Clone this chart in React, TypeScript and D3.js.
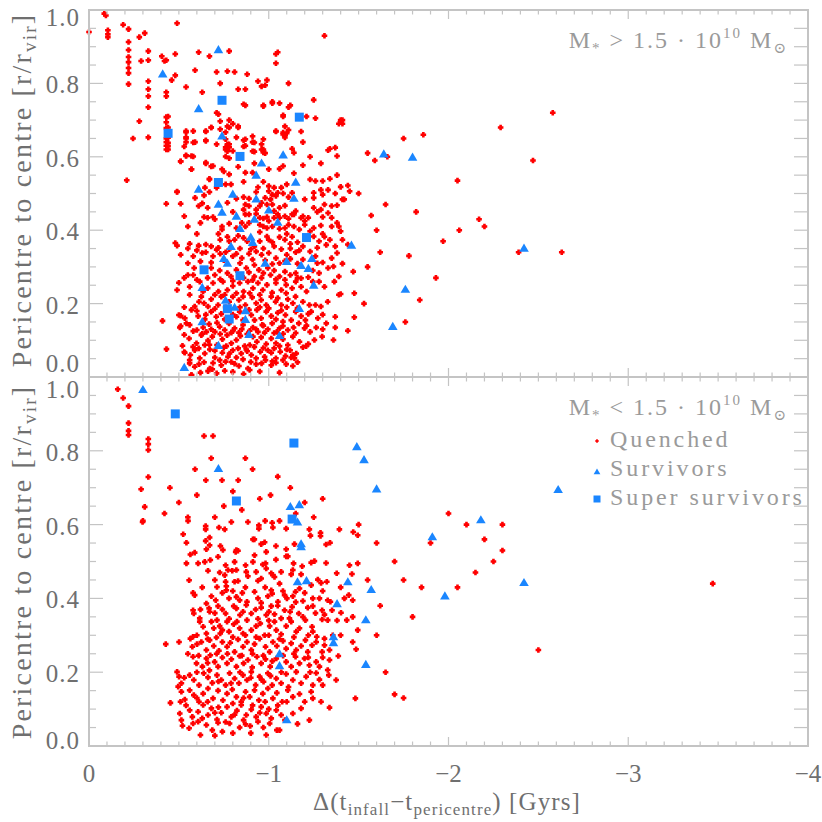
import React from 'react';
import * as d3 from 'd3';

type P = [number, number];

// ---------- data ----------
const quenchedTop: P[] = [
[0,0.94],[-0.085,0.99],[-0.094,0.985],[-0.105,0.945],[-0.105,0.934],[-0.105,0.926],[-0.19,0.96],[-0.22,0.948],[-0.22,0.913],[-0.22,0.891],[-0.22,0.872],[-0.22,0.858],[-0.22,0.842],[-0.22,0.828],[-0.22,0.798],[-0.21,0.536],[-0.28,0.926],[-0.31,0.937],[-0.33,0.888],[-0.33,0.863],[-0.29,0.861],[-0.33,0.806],[-0.33,0.784],[-0.33,0.765],[-0.33,0.735],[-0.28,0.697],[-0.245,0.65],[-0.33,0.653],[-0.405,0.874],[-0.42,0.861],[-0.43,0.863],[-0.48,0.822],[-0.46,0.809],[-0.48,0.88],[-0.49,0.964],[-0.43,0.776],[-0.43,0.765],[-0.43,0.708],[-0.43,0.694],[-0.43,0.678],[-0.43,0.65],[-0.43,0.64],[-0.43,0.63],[-0.43,0.62],[-0.51,0.587],[-0.49,0.505],[-0.54,0.79],[-0.54,0.667],[-0.54,0.653],[-0.53,0.628],[-0.54,0.604],[-0.57,0.566],[-0.58,0.639],[-0.58,0.601],[-0.59,0.836],[-0.61,0.885],[-0.63,0.776],[-0.67,0.874],[-0.65,0.669],[-0.68,0.68],[-0.65,0.645],[-0.65,0.582],[-0.645,0.516],[-0.68,0.574],[-0.67,0.538],[-0.71,0.831],[-0.73,0.8],[-0.77,0.833],[-0.78,0.888],[-0.81,0.831],[-0.72,0.716],[-0.73,0.697],[-0.73,0.675],[-0.77,0.683],[-0.78,0.68],[-0.76,0.667],[-0.83,0.683],[-0.71,0.634],[-0.77,0.634],[-0.76,0.626],[-0.78,0.626],[-0.77,0.615],[-0.76,0.601],[-0.78,0.596],[-0.82,0.653],[-0.87,0.648],[-0.86,0.628],[-0.91,0.656],[-0.92,0.639],[-0.91,0.615],[-0.83,0.784],[-0.87,0.784],[-0.86,0.743],[-0.88,0.825],[-0.94,0.806],[-0.96,0.792],[-0.98,0.795],[-0.99,0.809],[-0.97,0.738],[-1.02,0.746],[-0.96,0.634],[-0.97,0.62],[-0.97,0.612],[-0.92,0.582],[-1.06,0.746],[-1.08,0.713],[-1.09,0.683],[-1.04,0.669],[-1.08,0.661],[-1.09,0.653],[-1.04,0.88],[-1.05,0.885],[-1.04,0.855],[-1.11,0.8],[-1.11,0.735],
[-0.87,0.74],[-0.97,0.74],[-1.02,0.75],[-1.12,0.74],[-1.25,0.755],[-0.44,0.71],[-0.71,0.72],[-0.78,0.7],[-0.8,0.69],[-0.83,0.68],[-0.68,0.68],[-0.65,0.67],[-1.08,0.71],[-1.04,0.67],[-1.08,0.666],[-1.21,0.71],[-1.26,0.705],[-1.41,0.7],[-1.39,0.69],
[-0.44,0.68],[-0.54,0.67],[-0.58,0.67],[-0.54,0.65],[-0.76,0.648],[-0.78,0.634],[-0.76,0.62],[-0.86,0.645],[-0.87,0.63],[-0.91,0.64],[-0.97,0.648],[-0.96,0.62],[-0.98,0.61],[-1.1,0.664],[-1.11,0.673],[-1.18,0.669],[-1.19,0.64],
[-0.44,0.652],[-0.44,0.638],[-0.44,0.629],[-0.44,0.62],[-0.54,0.64],[-0.59,0.64],[-0.65,0.643],[-0.8,0.616],[-0.77,0.625],[-0.92,0.614],[-1.13,0.622],[-1.14,0.611],[-1.34,0.622],[-1.37,0.625],[-1.38,0.602],
[-0.54,0.602],[-0.57,0.602],[-0.51,0.588],[-0.65,0.584],[-0.69,0.575],[-0.74,0.566],[-0.75,0.56],[-0.83,0.573],[-0.87,0.557],[-1.0,0.566],[-1.06,0.567],[-1.08,0.575],[-1.14,0.555],[-1.19,0.577],[-1.23,0.6],[-1.29,0.582],[-1.33,0.618],
[-0.57,0.566],[-0.67,0.54],[-0.78,0.552],[-0.76,0.525],[-0.79,0.525],[-0.86,0.532],[-0.91,0.557],[-0.94,0.517],[-0.97,0.532],[-1.0,0.52],[-1.03,0.516],[-1.07,0.516],[-1.1,0.525],[-1.05,0.502],[-1.23,0.538],[-1.26,0.534],[-1.3,0.534],[-1.34,0.54],[-1.38,0.55],[-1.44,0.522],
[-0.49,0.504],[-0.59,0.488],[-0.64,0.495],[-0.71,0.516],[-0.67,0.504],[-0.82,0.486],[-0.86,0.49],[-0.89,0.486],[-0.93,0.504],[-0.98,0.488],[-1.0,0.506],[-1.02,0.497],[-1.01,0.484],[-1.04,0.493],[-1.08,0.5],[-1.11,0.49],[-1.13,0.502],[-1.2,0.484],[-1.25,0.502],[-1.25,0.488],[-1.29,0.51],[-1.3,0.497],[-1.33,0.51],[-1.37,0.5],[-1.4,0.518],[-1.41,0.484],[-1.45,0.506],
[-0.43,0.472],[-0.51,0.472],[-0.61,0.466],[-0.63,0.473],[-0.66,0.461],[-0.77,0.475],[-0.87,0.47],[-0.86,0.456],[-0.89,0.466],[-0.93,0.456],[-0.95,0.466],[-0.96,0.475],[-0.99,0.47],[-1.02,0.47],[-1.03,0.452],[-1.06,0.461],[-1.09,0.467],[-1.13,0.443],[-1.15,0.452],[-1.19,0.438],[-1.25,0.461],[-1.29,0.456],[-1.31,0.47],[-1.33,0.447],[-1.35,0.466],[-1.38,0.468],[-1.42,0.484],
[-0.53,0.438],[-0.64,0.436],[-0.66,0.434],[-0.69,0.436],[-0.87,0.443],[-0.89,0.443],[-0.93,0.445],[-0.95,0.434],[-0.97,0.432],[-0.99,0.436],[-1.03,0.434],[-1.05,0.443],[-1.06,0.434],[-1.09,0.438],[-1.11,0.431],[-1.14,0.443],[-1.18,0.434],[-1.22,0.434],[-1.3,0.436],[-1.35,0.434],[-1.38,0.42],
[-0.74,0.41],[-0.74,0.402],[-0.78,0.418],[-0.82,0.406],[-0.87,0.41],[-0.89,0.42],[-0.95,0.415],[-0.97,0.41],[-0.99,0.406],[-1.02,0.41],[-1.06,0.404],[-1.09,0.406],[-1.11,0.415],[-1.14,0.41],[-1.17,0.402],[-1.2,0.415],[-1.23,0.397],[-1.25,0.406],[-1.29,0.413],[-1.35,0.41],[-1.39,0.41],[-1.4,0.397],
[-0.48,0.365],[-0.49,0.358],[-0.56,0.363],[-0.61,0.358],[-0.65,0.361],[-0.68,0.356],[-0.73,0.374],[-0.77,0.382],[-0.78,0.37],[-0.81,0.374],[-0.83,0.385],[-0.86,0.379],[-0.88,0.37],[-0.92,0.356],[-0.95,0.37],[-0.99,0.383],[-1.0,0.374],[-1.02,0.367],[-1.03,0.356],[-1.06,0.381],[-1.09,0.374],[-1.12,0.363],[-1.13,0.382],[-1.16,0.367],[-1.19,0.356],[-1.25,0.383],[-1.28,0.37],[-1.31,0.382],[-1.34,0.374],[-1.37,0.356],[-1.41,0.374],[-1.44,0.361],
[-0.51,0.333],[-0.58,0.329],[-0.63,0.338],[-0.65,0.34],[-0.69,0.329],[-0.71,0.347],[-0.73,0.336],[-0.76,0.34],[-0.8,0.329],[-0.82,0.336],[-0.85,0.324],[-0.89,0.336],[-0.91,0.32],[-0.93,0.342],[-0.96,0.333],[-0.98,0.318],[-1.0,0.338],[-1.04,0.324],[-1.06,0.31],[-1.1,0.333],[-1.12,0.322],[-1.15,0.34],[-1.16,0.309],[-1.19,0.32],[-1.23,0.342],[-1.26,0.329],[-1.3,0.312],[-1.35,0.324],[-1.38,0.338],[-1.41,0.309],
[-0.55,0.278],[-0.585,0.297],[-0.58,0.278],[-0.68,0.297],[-0.7,0.278],[-0.727,0.29],[-0.77,0.283],[-0.79,0.274],[-0.82,0.292],[-0.875,0.297],[-0.89,0.285],[-0.92,0.274],[-0.945,0.292],[-0.97,0.283],[-0.995,0.297],[-1.01,0.278],[-1.03,0.29],[-1.06,0.274],[-1.09,0.287],[-1.12,0.278],[-1.15,0.283],[-1.18,0.269],[-1.245,0.29],[-1.28,0.283],[-1.33,0.297],[-1.36,0.301],[-1.39,0.274],[-1.47,0.287],
[-0.5,0.257],[-0.56,0.246],[-0.616,0.26],[-0.66,0.242],[-0.69,0.256],[-0.72,0.233],[-0.745,0.26],[-0.77,0.237],[-0.8,0.248],[-0.838,0.256],[-0.86,0.233],[-0.884,0.26],[-0.912,0.242],[-0.94,0.256],[-0.967,0.237],[-0.99,0.251],[-1.019,0.23],[-1.04,0.256],[-1.07,0.237],[-1.097,0.251],[-1.13,0.242],[-1.15,0.26],[-1.18,0.246],[-1.21,0.233],[-1.245,0.26],[-1.28,0.26],[-1.31,0.246],[-1.365,0.26],[-1.39,0.224],[-1.476,0.228],[-0.49,0.237],[-0.635,0.233],[-0.755,0.224],[-0.82,0.228],[-0.894,0.228],[-0.95,0.224],[-1.097,0.228],
[-0.56,0.224],[-0.612,0.205],[-0.64,0.201],[-0.68,0.212],[-0.718,0.196],[-0.736,0.219],[-0.78,0.205],[-0.834,0.21],[-0.87,0.196],[-0.908,0.217],[-0.93,0.201],[-0.958,0.21],[-0.986,0.196],[-1.014,0.219],[-1.038,0.205],[-1.07,0.196],[-1.106,0.212],[-1.134,0.201],[-1.149,0.219],[-1.19,0.205],[-1.226,0.196],[-1.26,0.196],[-1.29,0.192],[-1.328,0.205],[-1.4,0.226],[-0.625,0.219],[-0.7,0.224],[-0.8,0.219],[-0.857,0.219],[-1.05,0.215],
[-0.5,0.169],[-0.533,0.16],[-0.57,0.183],[-0.607,0.166],[-0.644,0.157],[-0.68,0.178],[-0.708,0.164],[-0.736,0.172],[-0.755,0.157],[-0.82,0.164],[-0.838,0.178],[-0.903,0.169],[-0.934,0.183],[-0.958,0.16],[-0.986,0.178],[-1.014,0.166],[-1.04,0.157],[-1.07,0.181],[-1.093,0.169],[-1.125,0.155],[-1.15,0.178],[-1.18,0.166],[-1.204,0.155],[-1.236,0.178],[-1.273,0.16],[-1.32,0.146],[-1.37,0.164],[-1.476,0.163],[-0.409,0.153],[-0.588,0.192],[-0.662,0.192],[-0.78,0.183],[-0.857,0.155],[-0.921,0.155],[-1.079,0.151],
[-0.505,0.135],[-0.56,0.142],[-0.6,0.128],[-0.635,0.135],[-0.668,0.144],[-0.7,0.123],[-0.727,0.137],[-0.755,0.128],[-0.779,0.146],[-0.81,0.133],[-0.834,0.121],[-0.857,0.142],[-0.912,0.135],[-0.94,0.123],[-0.964,0.142],[-0.995,0.13],[-1.019,0.146],[-1.045,0.123],[-1.079,0.139],[-1.106,0.128],[-1.138,0.135],[-1.167,0.146],[-1.199,0.133],[-1.23,0.123],[-1.264,0.135],[-1.37,0.135],[-1.44,0.126],[-0.542,0.146],[-0.653,0.123],[-0.712,0.148],[-0.792,0.121],[-0.894,0.126],[-0.977,0.121],[-1.06,0.133],
[-0.557,0.105],[-0.598,0.092],[-0.625,0.114],[-0.662,0.099],[-0.686,0.11],[-0.712,0.087],[-0.742,0.103],[-0.768,0.114],[-0.792,0.092],[-0.82,0.101],[-0.842,0.112],[-0.866,0.084],[-0.912,0.11],[-0.934,0.096],[-0.958,0.108],[-0.986,0.09],[-1.014,0.105],[-1.04,0.092],[-1.079,0.103],[-1.106,0.087],[-1.134,0.11],[-1.171,0.096],[-1.208,0.084],[-1.254,0.101],[-1.297,0.11],[-1.36,0.101],[-0.431,0.076],[-0.579,0.082],[-0.644,0.087],[-0.764,0.084],[-0.894,0.087],[-1.06,0.084],
[-0.533,0.066],[-0.564,0.06],[-0.588,0.073],[-0.616,0.051],[-0.644,0.064],[-0.672,0.075],[-0.7,0.053],[-0.742,0.066],[-0.773,0.055],[-0.8,0.073],[-0.82,0.053],[-0.847,0.064],[-0.875,0.075],[-0.903,0.06],[-0.93,0.051],[-0.953,0.069],[-0.977,0.055],[-1.014,0.066],[-1.04,0.051],[-1.064,0.069],[-1.093,0.057],[-1.119,0.073],[-1.143,0.051],[-1.19,0.081],[-1.153,0.064],[-0.56,0.046],[-0.727,0.046],[-0.782,0.064],[-0.857,0.048],[-0.995,0.073],[-1.079,0.046],[-1.134,0.06],
[-0.56,0.037],[-0.588,0.028],[-0.612,0.035],[-0.672,0.023],[-0.686,0.021],[-0.736,0.032],[-0.755,0.017],[-0.792,0.041],[-0.834,0.03],[-0.884,0.023],[-0.894,0.019],[-0.93,0.035],[-0.982,0.046],[-1.014,0.032],[-1.04,0.039],[-1.097,0.035],[-1.134,0.03],[-1.125,0.053],[-0.57,0.005],[-0.662,0.016],
[-0.51,0.167],[-0.51,0.139],[-0.53,0.068],[-0.57,0.005],
[-0.62,0.012],[-0.71,0.01],[-0.8,0.014],[-0.86,0.008],[-0.95,0.015],[-1.06,0.012],
[-0.64,0.04],[-0.69,0.038],[-0.76,0.042],[-0.81,0.036],[-0.9,0.041],[-0.96,0.037],[-1.02,0.043],[-1.16,0.04],
[-0.52,0.085],[-0.61,0.078],[-0.67,0.088],[-0.7,0.072],[-0.75,0.08],[-0.83,0.078],[-0.88,0.07],[-0.92,0.082],[-0.97,0.079],[-1.03,0.078],[-1.1,0.075],[-1.22,0.09],
[-0.53,0.115],[-0.58,0.125],[-0.63,0.118],[-0.68,0.13],[-0.73,0.117],[-0.8,0.125],[-0.85,0.13],[-0.88,0.117],[-0.93,0.13],[-0.97,0.14],[-1.03,0.12],[-1.08,0.118],[-1.15,0.12],[-1.21,0.14],[-1.3,0.13],
[-0.53,0.19],[-0.6,0.18],[-0.65,0.17],[-0.7,0.186],[-0.76,0.19],[-0.8,0.17],[-0.84,0.19],[-0.89,0.183],[-0.95,0.19],[-1.0,0.187],[-1.05,0.175],[-1.1,0.19],[-1.16,0.188],[-1.22,0.172],[-1.3,0.17],
[-0.53,0.27],[-0.6,0.265],[-0.66,0.27],[-0.73,0.266],[-0.8,0.262],[-0.86,0.27],[-0.91,0.264],[-0.96,0.27],[-1.04,0.266],[-1.09,0.265],[-1.16,0.27],[-1.22,0.272],
[-0.55,0.31],[-0.62,0.315],[-0.68,0.312],[-0.75,0.318],[-0.84,0.31],[-0.92,0.305],[-1.02,0.308],[-1.09,0.316],[-1.27,0.31],
[-0.55,0.35],[-0.6,0.345],[-0.72,0.352],[-0.78,0.348],[-0.84,0.35],[-0.9,0.348],[-0.97,0.35],[-1.07,0.348],[-1.12,0.35],[-1.17,0.345],[-1.27,0.352],[-1.32,0.36],
[-0.62,0.42],[-0.7,0.43],[-0.8,0.45],[-0.85,0.42],[-0.95,0.395],[-1.0,0.425],[-1.1,0.39],[-1.2,0.425],[-1.3,0.39],[-1.27,0.45],[-0.72,0.39],[-0.6,0.39],[-0.55,0.41],
[-1.31,0.93],[-1.4,0.7],[-1.41,0.69],[-1.55,0.61],[-1.59,0.59],[-1.66,0.6],[-1.75,0.65],[-1.86,0.66],[-2.05,0.535],[-2.17,0.43],[-2.2,0.41],[-2.06,0.4],[-1.97,0.37],[-1.93,0.27],[-1.84,0.21],[-1.76,0.15],[-1.57,0.44],[-1.6,0.4],[-1.55,0.3],[-1.53,0.2],[-1.62,0.34],[-2.29,0.68],[-2.58,0.72],[-2.47,0.59],[-2.63,0.34],[-2.39,0.34],[-1.5,0.5],[-1.65,0.47],[-1.82,0.45],[-1.78,0.33]
];

const survivorsTop: P[] = [
[-0.72,0.891],[-0.41,0.825],[-0.61,0.73],[-0.74,0.656],[-1.08,0.604],[-0.96,0.582],[-0.93,0.549],[-1.15,0.53],[-0.61,0.511],[-0.8,0.497],[-0.93,0.484],[-1.14,0.486],[-0.72,0.47],[-0.74,0.448],[-1.0,0.454],[-0.82,0.437],[-0.92,0.429],[-1.05,0.421],[-0.84,0.404],[-0.9,0.38],[-0.91,0.366],[-0.79,0.355],[-1.24,0.322],[-0.75,0.322],[-0.77,0.309],[-0.98,0.309],[-1.1,0.314],[-1.18,0.303],[-1.22,0.295],[-0.63,0.243],[-1.25,0.249],[-0.76,0.208],[-0.81,0.189],[-0.87,0.18],[-0.87,0.156],[-0.63,0.15],[-1.17,0.186],[-0.89,0.115],[-1.06,0.112],[-0.72,0.085],[-0.53,0.025],[-1.46,0.358],
[-1.64,0.607],[-1.8,0.598],[-2.42,0.35],[-1.76,0.238],[-1.69,0.137]
];

const superTop: P[] = [
[-0.74,0.754],[-0.44,0.664],[-0.84,0.601],[-0.72,0.53],[-1.17,0.708],[-1.21,0.38],[-0.64,0.292],[-0.84,0.276],[-0.77,0.186],[-0.78,0.158]
];

const quenchedBottom: P[] = [
[-0.16,0.967],[-0.19,0.943],[-0.22,0.921],[-0.22,0.875],[-0.22,0.854],[-0.22,0.843],[-0.33,0.832],[-0.33,0.818],[-0.33,0.802],[-0.33,0.729],[-0.29,0.696],[-0.31,0.648],[-0.3,0.61],
[-0.64,0.84],[-0.69,0.84],[-0.68,0.78],[-0.59,0.75],[-0.65,0.72],[-0.74,0.72],[-0.83,0.72],[-0.87,0.78],[-0.91,0.75],[-0.75,0.65],[-0.95,0.67],[-1.01,0.68],[-1.06,0.61],[-0.98,0.61],[-0.92,0.56],[-0.85,0.64],[-0.7,0.62],[-0.55,0.62],[-0.5,0.66],[-0.45,0.7],[-0.42,0.63],[-1.12,0.7],[-1.2,0.66],[-1.25,0.62],[-1.15,0.63],[-1.3,0.67],[-0.8,0.69],[-0.6,0.68],[-1.05,0.73],
[-1.5,0.6],[-1.6,0.55],[-1.7,0.5],[-1.75,0.45],[-1.9,0.55],[-2.0,0.63],[-2.1,0.6],[-2.2,0.56],[-2.25,0.5],[-2.3,0.6],[-2.05,0.43],[-2.5,0.26],[-3.47,0.44],[-1.55,0.45],[-1.62,0.38],[-1.7,0.14],[-1.75,0.13],[-1.6,0.3],[-1.65,0.2],[-1.8,0.35],[-1.85,0.43],[-2.15,0.47],[-2.3,0.53],
[-0.298,0.607],[-0.551,0.61],[-0.649,0.596],[-0.649,0.587],[-0.723,0.592],[-0.755,0.587],[-0.792,0.607],[-0.884,0.607],[-0.945,0.598],[-0.945,0.589],[-1.019,0.605],[-1.023,0.592],[-1.097,0.589],[-1.226,0.587],[-1.288,0.578],[-1.288,0.569],[-1.393,0.587],[-1.47,0.58],[-1.495,0.571],[-0.524,0.574],[-0.671,0.565],
[-0.542,0.551],[-0.649,0.556],[-0.671,0.544],[-0.731,0.542],[-0.745,0.531],[-0.82,0.531],[-0.816,0.526],[-0.829,0.529],[-0.912,0.56],[-0.921,0.517],[-0.958,0.547],[-0.977,0.552],[-0.986,0.526],[-1.04,0.542],[-1.097,0.533],[-1.106,0.514],[-1.143,0.547],[-1.232,0.57],[-1.319,0.546],[-1.341,0.551],[-0.588,0.524],[-0.564,0.519],[-0.653,0.533],[-0.718,0.513],
[-0.542,0.495],[-0.607,0.495],[-0.644,0.499],[-0.675,0.504],[-0.76,0.49],[-0.773,0.477],[-0.81,0.499],[-0.82,0.477],[-0.871,0.49],[-0.912,0.499],[-0.967,0.492],[-0.982,0.495],[-1.04,0.505],[-1.138,0.495],[-1.186,0.487],[-1.236,0.497],[-1.254,0.501],[-1.319,0.496],[-1.449,0.49],[-1.495,0.495],[-1.097,0.514],[-0.986,0.481],
[-0.557,0.449],[-0.662,0.475],[-0.727,0.47],[-0.755,0.463],[-0.76,0.445],[-0.81,0.445],[-0.829,0.447],[-0.797,0.475],[-0.875,0.472],[-0.884,0.46],[-0.93,0.472],[-0.94,0.448],[-0.958,0.454],[-1.014,0.468],[-1.023,0.463],[-1.032,0.458],[-1.069,0.472],[-1.125,0.465],[-1.134,0.477],[-1.18,0.465],[-1.273,0.451],[-1.291,0.442],[-1.323,0.445],[-1.378,0.468],[-1.463,0.466],[-1.236,0.436],[-0.764,0.433],
[-0.579,0.415],[-0.588,0.409],[-0.681,0.406],[-0.705,0.395],[-0.742,0.415],[-0.764,0.422],[-0.779,0.4],[-0.82,0.404],[-0.838,0.395],[-0.853,0.415],[-0.879,0.391],[-0.921,0.418],[-0.94,0.4],[-0.958,0.388],[-0.995,0.406],[-1.014,0.422],[-1.019,0.413],[-1.079,0.42],[-1.088,0.409],[-1.101,0.4],[-1.134,0.406],[-1.149,0.418],[-1.171,0.427],[-1.19,0.393],[-1.245,0.4],[-1.282,0.4],[-1.328,0.395],[-1.343,0.391],[-1.421,0.4],[-1.445,0.409],[-1.467,0.395],[-1.051,0.391],[-0.712,0.431],
[-0.579,0.368],[-0.583,0.359],[-0.653,0.386],[-0.668,0.373],[-0.671,0.364],[-0.718,0.379],[-0.742,0.37],[-0.76,0.359],[-0.805,0.379],[-0.82,0.373],[-0.857,0.364],[-0.875,0.382],[-0.903,0.359],[-0.927,0.37],[-0.958,0.375],[-0.986,0.355],[-1.001,0.364],[-1.014,0.379],[-1.032,0.357],[-1.069,0.346],[-1.088,0.368],[-1.119,0.364],[-1.13,0.377],[-1.167,0.359],[-1.19,0.35],[-1.217,0.375],[-1.245,0.379],[-1.297,0.368],[-1.31,0.356],[-1.352,0.368],[-1.402,0.361],[-1.434,0.341],[-1.467,0.35],[-0.616,0.346],[-1.115,0.346],
[-0.616,0.337],[-0.635,0.323],[-0.653,0.305],[-0.681,0.337],[-0.694,0.319],[-0.712,0.341],[-0.727,0.325],[-0.742,0.314],[-0.768,0.337],[-0.779,0.31],[-0.805,0.33],[-0.823,0.337],[-0.838,0.319],[-0.857,0.305],[-0.879,0.341],[-0.903,0.314],[-0.93,0.325],[-0.953,0.332],[-0.977,0.3],[-1.005,0.325],[-1.032,0.337],[-1.042,0.314],[-1.069,0.303],[-1.097,0.325],[-1.125,0.337],[-1.153,0.31],[-1.171,0.319],[-1.204,0.341],[-1.241,0.323],[-1.245,0.31],[-1.267,0.296],[-1.297,0.343],[-1.31,0.291],[-1.328,0.341],[-1.356,0.3],[-1.495,0.314],[-0.579,0.296],
[-0.427,0.276],[-0.501,0.282],[-0.564,0.291],[-0.575,0.269],[-0.601,0.276],[-0.625,0.282],[-0.653,0.26],[-0.671,0.287],[-0.694,0.271],[-0.709,0.294],[-0.723,0.258],[-0.742,0.282],[-0.768,0.269],[-0.786,0.28],[-0.81,0.255],[-0.829,0.289],[-0.857,0.269],[-0.879,0.282],[-0.903,0.26],[-0.921,0.276],[-0.949,0.291],[-0.982,0.269],[-1.005,0.255],[-1.023,0.282],[-1.045,0.271],[-1.079,0.285],[-1.097,0.264],[-1.125,0.278],[-1.153,0.26],[-1.18,0.271],[-1.204,0.287],[-1.217,0.255],[-1.241,0.273],[-1.264,0.282],[-1.297,0.255],[-1.31,0.273],[-1.338,0.26],[-1.467,0.282],[-1.486,0.262],
[-0.579,0.242],[-0.598,0.224],[-0.631,0.215],[-0.653,0.237],[-0.675,0.246],[-0.699,0.228],[-0.718,0.215],[-0.742,0.24],[-0.768,0.224],[-0.792,0.235],[-0.82,0.215],[-0.838,0.244],[-0.86,0.224],[-0.884,0.233],[-0.908,0.213],[-0.934,0.242],[-0.958,0.224],[-0.982,0.235],[-1.008,0.215],[-1.042,0.237],[-1.097,0.228],[-1.125,0.215],[-1.149,0.242],[-1.171,0.224],[-1.199,0.237],[-1.226,0.219],[-1.264,0.228],[-1.282,0.215],[-1.338,0.233],[-1.387,0.244],[-1.328,0.206],
[-0.49,0.201],[-0.501,0.188],[-0.514,0.17],[-0.56,0.192],[-0.583,0.179],[-0.612,0.165],[-0.638,0.197],[-0.662,0.186],[-0.686,0.171],[-0.712,0.192],[-0.736,0.179],[-0.76,0.165],[-0.782,0.197],[-0.81,0.183],[-0.834,0.17],[-0.857,0.192],[-0.879,0.179],[-0.903,0.201],[-0.927,0.165],[-0.949,0.188],[-0.971,0.174],[-0.995,0.197],[-1.019,0.165],[-1.042,0.183],[-1.069,0.17],[-1.097,0.195],[-1.134,0.179],[-1.153,0.201],[-1.208,0.188],[-1.245,0.165],[-1.282,0.18],[-1.334,0.192],[-1.375,0.179],[-1.264,0.198],
[-0.496,0.161],[-0.514,0.147],[-0.56,0.151],[-0.583,0.138],[-0.612,0.12],[-0.635,0.142],[-0.662,0.156],[-0.69,0.129],[-0.718,0.15],[-0.745,0.124],[-0.768,0.142],[-0.797,0.153],[-0.82,0.133],[-0.847,0.12],[-0.871,0.147],[-0.894,0.133],[-0.921,0.151],[-0.945,0.124],[-0.967,0.142],[-0.995,0.156],[-1.023,0.129],[-1.045,0.144],[-1.075,0.12],[-1.106,0.151],[-1.134,0.133],[-1.171,0.141],[-1.236,0.147],[-1.245,0.129],[-1.291,0.12],[-0.453,0.117],[-0.509,0.12],[-0.533,0.126],
[-0.505,0.088],[-0.514,0.07],[-0.56,0.097],[-0.575,0.079],[-0.607,0.093],[-0.635,0.111],[-0.662,0.084],[-0.681,0.102],[-0.712,0.072],[-0.736,0.09],[-0.768,0.106],[-0.792,0.079],[-0.823,0.096],[-0.847,0.111],[-0.875,0.084],[-0.903,0.099],[-0.93,0.079],[-0.958,0.106],[-0.986,0.088],[-1.014,0.075],[-1.042,0.097],[-1.069,0.084],[-1.134,0.088],[-1.18,0.102],[-1.226,0.07],[-1.338,0.104],[-1.482,0.129],
[-0.557,0.048],[-0.579,0.061],[-0.607,0.066],[-0.653,0.057],[-0.686,0.043],[-0.718,0.063],[-0.742,0.039],[-0.782,0.061],[-0.838,0.05],[-0.871,0.059],[-0.897,0.054],[-0.94,0.066],[-0.986,0.03],[-1.045,0.043],[-1.06,0.043],[-1.005,0.061],
[-0.62,0.03],[-0.7,0.028],[-0.8,0.035],[-0.9,0.035],[-0.97,0.05],[-0.52,0.055],[-0.63,0.075],[-0.7,0.09],[-0.76,0.065],[-0.81,0.085],[-0.86,0.07],[-0.95,0.09],[-1.0,0.1],[-1.09,0.07],[-1.16,0.06],
[-0.54,0.11],[-0.6,0.13],[-0.66,0.12],[-0.72,0.105],[-0.8,0.115],[-0.86,0.13],[-0.91,0.11],[-0.98,0.12],[-1.05,0.11],[-1.1,0.12],[-1.2,0.12],
[-0.53,0.185],[-0.6,0.2],[-0.67,0.205],[-0.72,0.175],[-0.79,0.17],[-0.84,0.2],[-0.9,0.185],[-0.96,0.18],[-1.01,0.19],[-1.07,0.2],[-1.11,0.16],[-1.18,0.17],[-1.23,0.2],[-1.3,0.165],
[-0.55,0.25],[-0.61,0.245],[-0.66,0.225],[-0.71,0.25],[-0.77,0.25],[-0.85,0.245],[-0.91,0.25],[-0.97,0.245],[-1.02,0.23],[-1.08,0.245],[-1.14,0.25],[-1.22,0.24],[-1.3,0.24],
[-0.6,0.3],[-0.66,0.29],[-0.73,0.305],[-0.8,0.295],[-0.87,0.3],[-0.93,0.295],[-1.0,0.3],[-1.06,0.29],[-1.14,0.295],[-1.22,0.3],[-1.4,0.3],
[-0.62,0.37],[-0.7,0.36],[-0.78,0.345],[-0.84,0.355],[-0.94,0.345],[-1.0,0.34],[-1.05,0.38],[-1.15,0.39],[-1.26,0.36],[-1.38,0.34],
[-0.63,0.43],[-0.7,0.45],[-0.8,0.42],[-0.87,0.43],[-0.98,0.43],[-1.06,0.44],[-1.2,0.415],[-1.3,0.42],[-1.4,0.43]
];

const survivorsBottom: P[] = [
[-0.3,0.965],[-0.72,0.751],[-1.49,0.81],[-1.53,0.775],[-1.6,0.696],[-2.61,0.694],[-2.18,0.612],[-1.91,0.566],[-1.12,0.648],[-1.17,0.653],[-1.16,0.606],[-1.18,0.547],[-1.18,0.539],[-1.16,0.444],[-1.21,0.447],[-1.44,0.444],[-1.38,0.385],[-1.36,0.295],[-1.36,0.279],[-1.06,0.249],[-1.06,0.217],[-1.1,0.07],[-1.54,0.341],[-1.54,0.22],[-1.98,0.406],[-2.42,0.442],[-1.57,0.423]
];

const superBottom: P[] = [
[-0.48,0.9],[-1.14,0.821],[-0.82,0.664],[-1.13,0.615]
];

const xMajorTicks = [0, -1, -2, -3, -4];
const xTickLabels = ['0', '\u22121', '\u22122', '\u22123', '\u22124'];
const yMajorTicks = [0, 0.2, 0.4, 0.6, 0.8, 1.0];
const yTickLabels = ['0.0', '0.2', '0.4', '0.6', '0.8', '1.0'];
const legendLabels = ['Quenched', 'Survivors', 'Super survivors'];

// ---------- layout ----------
const W = 822, H = 822;
const PL = 89, PR = 808;
const RED = '#ff0000';
const BLUE = '#1a86ff';
const AXIS = '#c4c4c4';
const TXT = '#6f6f6f';
const TXT2 = '#9a9a9a';
const FONT = '"Liberation Serif", "DejaVu Serif", serif';

const x = d3.scaleLinear().domain([0, -4]).range([PL, PR]);
const yTop = d3.scaleLinear().domain([0, 1]).range([377, 10]);
const yBot = d3.scaleLinear().domain([0, 1]).range([746, 377]);

const xMinor = d3.range(0, 41).map(i => -i / 10);
const yMinor = d3.range(0, 21).map(i => i / 20);

function plus(cx: number, cy: number, s = 1) {
  const a = 2.8 * s, b = 1.3 * s;
  return `M${cx - b},${cy - a}H${cx + b}V${cy - b}H${cx + a}V${cy + b}H${cx + b}V${cy + a}H${cx - b}V${cy + b}H${cx - a}V${cy - b}H${cx - b}Z`;
}
function tri(cx: number, cy: number, s = 1) {
  return `M${cx},${cy - 5 * s}L${cx + 4.8 * s},${cy + 3.2 * s}L${cx - 4.8 * s},${cy + 3.2 * s}Z`;
}

function Panel({ y, q, s, ss, top }: { y: d3.ScaleLinear<number, number>; q: P[]; s: P[]; ss: P[]; top: boolean }) {
  const [y0, y1] = y.range();
  return (
    <g>
      <g>
        {q.map((d, i) => <path key={'q' + i} d={plus(x(d[0]), y(d[1]))} fill={RED} />)}
        {s.map((d, i) => <path key={'s' + i} d={tri(x(d[0]), y(d[1]))} fill={BLUE} />)}
        {ss.map((d, i) => <rect key={'ss' + i} x={x(d[0]) - 4.5} y={y(d[1]) - 4.5} width={9} height={9} fill={BLUE} />)}
      </g>
      {xMinor.map((v, i) => {
        const len = i % 10 === 0 ? 9 : 4.5;
        return (
          <g key={'xt' + i} stroke={AXIS} strokeWidth={1.2}>
            <line x1={x(v)} x2={x(v)} y1={y0} y2={y0 - len} />
            <line x1={x(v)} x2={x(v)} y1={y1} y2={y1 + len} />
          </g>
        );
      })}
      {yMinor.map((v, i) => {
        const len = i % 4 === 0 ? 14 : 7;
        return (
          <g key={'yt' + i} stroke={AXIS} strokeWidth={1.2}>
            <line x1={PL} x2={PL + len} y1={y(v)} y2={y(v)} />
            <line x1={PR} x2={PR - 14} y1={y(v)} y2={y(v)} />
          </g>
        );
      })}
      <rect x={PL} y={y1} width={PR - PL} height={y0 - y1} fill="none" stroke={AXIS} strokeWidth={2} />
      {yMajorTicks.map((v, i) => {
        const off = i === 0 ? (top ? -5 : 3) : i === yMajorTicks.length - 1 ? (top ? 16 : 21) : 10;
        return (
          <text key={'yl' + i} x={80} y={y(v) + off} textAnchor="end" fontFamily={FONT} fontSize={25} letterSpacing={1} fill={TXT}>
            {yTickLabels[i]}
          </text>
        );
      })}
    </g>
  );
}

export default function App() {
  const lx = 597, ltx = 610;
  return (
    <svg width={W} height={H} viewBox={`0 0 ${W} ${H}`} style={{ position: 'absolute', left: 0, top: 0, background: '#fff' }}>
      <rect x={0} y={0} width={W} height={H} fill="#fff" />
      <Panel y={yTop} q={quenchedTop} s={survivorsTop} ss={superTop} top={true} />
      <Panel y={yBot} q={quenchedBottom} s={survivorsBottom} ss={superBottom} top={false} />

      {xMajorTicks.map((v, i) => (
        <text key={'xl' + i} x={x(v)} y={782} textAnchor="middle" fontFamily={FONT} fontSize={25} fill={TXT}>
          {xTickLabels[i]}
        </text>
      ))}

      <text x={447} y={810} textAnchor="middle" fontFamily={FONT} fontSize={25} letterSpacing={1.1} fill={TXT}>
        {'\u0394(t'}
        <tspan fontSize={17} dy={5}>infall</tspan>
        <tspan dy={-5}>{'\u2212t'}</tspan>
        <tspan fontSize={17} dy={5}>pericentre</tspan>
        <tspan dy={-5}>{') [Gyrs]'}</tspan>
      </text>

      {[190, 562].map((cy, i) => (
        <text key={'ylab' + i} transform={`translate(31,${cy}) rotate(-90)`} textAnchor="middle" fontFamily={FONT} fontSize={28} letterSpacing={2.2} fill={TXT}>
          {'Pericentre to centre [r/r'}
          <tspan fontSize={19} dy={5}>vir</tspan>
          <tspan dy={-5}>]</tspan>
        </text>
      ))}

      <text x={788} y={48} textAnchor="end" fontFamily={FONT} fontSize={24} letterSpacing={2} fill={TXT2}>
        M<tspan fontSize={15} dy={5}>*</tspan>
        <tspan dy={-5}>{' > 1.5 \u00b7 10'}</tspan>
        <tspan fontSize={15} dy={-10}>10</tspan>
        <tspan dy={10}>{' M'}</tspan>
        <tspan fontSize={15} dy={5}>{'\u2299'}</tspan>
      </text>
      <text x={788} y={415} textAnchor="end" fontFamily={FONT} fontSize={24} letterSpacing={2} fill={TXT2}>
        M<tspan fontSize={15} dy={5}>*</tspan>
        <tspan dy={-5}>{' < 1.5 \u00b7 10'}</tspan>
        <tspan fontSize={15} dy={-10}>10</tspan>
        <tspan dy={10}>{' M'}</tspan>
        <tspan fontSize={15} dy={5}>{'\u2299'}</tspan>
      </text>

      <path d={plus(lx, 441, 0.65)} fill={RED} />
      <path d={tri(lx, 472, 0.7)} fill={BLUE} />
      <rect x={lx - 3.5} y={495.5} width={7} height={7} fill={BLUE} />
      {legendLabels.map((t, i) => (
        <text key={'lg' + i} x={ltx} y={447 + i * 29} fontFamily={FONT} fontSize={24} fill={TXT2} letterSpacing={2.9}>
          {t}
        </text>
      ))}
    </svg>
  );
}
